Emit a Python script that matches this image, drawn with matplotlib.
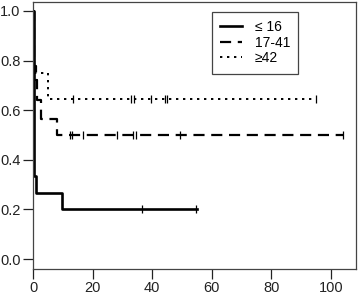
"""
Kaplan-Meier style survival curves for three groups, with censor ticks.
"""
import matplotlib
matplotlib.use('Agg')
import matplotlib.pyplot as plt
from matplotlib.lines import Line2D

plt.rcParams.update({
    'font.family': ['Liberation Sans', 'DejaVu Sans'],
    'font.size': 10,
})

# step curves: time at which the survival value starts, and the value
t_low = [0, 0.3, 1.0, 9.8, 55]
s_low = [1.0, 0.333, 0.267, 0.2, 0.2]
cens_low_t = [36.5, 54.6]
cens_low_s = [0.2, 0.2]

t_mid = [0, 0.2, 0.5, 1.0, 1.5, 2.7, 8.0, 104]
s_mid = [1.0, 0.833, 0.778, 0.722, 0.64, 0.565, 0.5, 0.5]
cens_mid_t = [12.4, 13.0, 16.9, 28.3, 33.7, 34.6, 49.5, 104]
cens_mid_s = [0.5] * len(cens_mid_t)

t_high = [0, 0.4, 5.0, 95]
s_high = [1.0, 0.75, 0.645, 0.645]
cens_high_t = [13.3, 33.0, 33.9, 39.7, 44.2, 45.0, 95]
cens_high_s = [0.645] * len(cens_high_t)

labels = ['\u2264 16', '17-41', '\u226542']

SOLID = dict(color='black', lw=1.9, ls='-')
DASH = dict(color='black', lw=1.6, ls=(0, (5, 3)))
DOT = dict(color='black', lw=1.4, ls=(0, (1.2, 2.4)))

fig = plt.figure(figsize=(3.58, 2.94), dpi=100)
ax = fig.add_axes([33/358, 1 - 269/294, 323/358, 267/294])

ax.step(t_low, s_low, where='post', **SOLID)
ax.step(t_mid, s_mid, where='post', **DASH)
ax.step(t_high, s_high, where='post', **DOT)

for ct, cs in [(cens_low_t, cens_low_s), (cens_mid_t, cens_mid_s), (cens_high_t, cens_high_s)]:
    ax.plot(ct, cs, ls='none', marker='|', ms=6, mew=0.9, color='black')

ax.set_xlim(0, 108.4)
ax.set_ylim(-0.04, 1.036)
ax.set_xticks([0, 20, 40, 60, 80, 100])
ax.set_yticks([0.0, 0.2, 0.4, 0.6, 0.8, 1.0])
ax.set_yticklabels(['0.0', '0.2', '0.4', '0.6', '0.8', '1.0'])
ax.tick_params(direction='out', length=7, width=0.9, labelsize=10.5, pad=2, colors='#222222')
for sp in ax.spines.values():
    sp.set_linewidth(0.9)
    sp.set_color('#444444')

handles = [Line2D([], [], **SOLID), Line2D([], [], **DASH), Line2D([], [], **DOT)]
leg = ax.legend(handles, labels, loc='upper left', bbox_to_anchor=(0.553, 0.964),
                borderaxespad=0, fancybox=False, fontsize=10, handlelength=1.6,
                handletextpad=0.9, labelspacing=0.12, borderpad=0.6,
                edgecolor='#444444', framealpha=1)
leg.get_frame().set_linewidth(0.9)

fig.savefig('out.png', dpi=100, facecolor='white')
plt.close(fig)
